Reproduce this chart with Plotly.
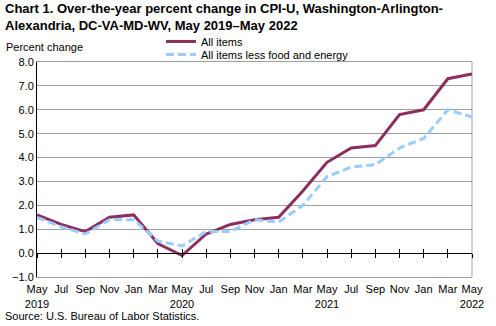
import plotly.graph_objects as go

# Bi-monthly periods, May 2019 through May 2022
months = ["May", "Jul", "Sep", "Nov", "Jan", "Mar",
          "May", "Jul", "Sep", "Nov", "Jan", "Mar",
          "May", "Jul", "Sep", "Nov", "Jan", "Mar", "May"]
year_labels = {0: "2019", 6: "2020", 12: "2021", 18: "2022"}

all_items = [1.6, 1.2, 0.9, 1.5, 1.6, 0.4, -0.1, 0.8, 1.2, 1.4,
             1.5, 2.6, 3.8, 4.4, 4.5, 5.8, 6.0, 7.3, 7.5]
core_items = [1.5, 1.1, 0.8, 1.4, 1.4, 0.5, 0.3, 0.9, 0.9, 1.4,
              1.3, 2.0, 3.2, 3.6, 3.7, 4.4, 4.8, 6.0, 5.7]

y_ticks = [-1, 0, 1, 2, 3, 4, 5, 6, 7, 8]

positions = list(range(len(months)))
tick_text = [m + ("<br>" + year_labels[i] if i in year_labels else "")
             for i, m in enumerate(months)]

FONT = "Liberation Sans, Arial, sans-serif"

fig = go.Figure()
fig.add_trace(go.Scatter(
    x=positions, y=all_items, mode="lines", name="All items",
    line=dict(color="#8B2F5E", width=3), legend="legend"))
fig.add_trace(go.Scatter(
    x=positions, y=core_items, mode="lines", name="All items less food and energy",
    line=dict(color="#99CCFF", width=3, dash="8px,4px"), legend="legend2"))

zero_pos = (0 - y_ticks[0]) / (y_ticks[-1] - y_ticks[0])
axis_common = dict(range=[positions[0], positions[-1]], tickvals=positions,
                   showgrid=False, zeroline=False, fixedrange=True)
legend_common = dict(xanchor="left", yanchor="top", bgcolor="rgba(0,0,0,0)",
                     font=dict(size=11), itemwidth=30)

fig.update_layout(
    width=496, height=326,
    margin=dict(l=30, r=21, t=62, b=49),
    paper_bgcolor="white", plot_bgcolor="white",
    font=dict(family=FONT, size=11, color="black"),
    showlegend=True,
    legend=dict(x=0.285, y=1.163, **legend_common),
    legend2=dict(x=0.285, y=1.102, **legend_common),
    xaxis=dict(**axis_common, ticktext=tick_text, ticks="",
               showline=True, linecolor="#A0A0A0", linewidth=1, mirror=True,
               tickfont=dict(size=11), ticklabelstandoff=2),
    xaxis2=dict(**axis_common, overlaying="x", anchor="free", position=zero_pos,
                showticklabels=False, ticks="outside", ticklen=4,
                tickcolor="black", showline=True, linecolor="black", linewidth=1),
    xaxis3=dict(**axis_common, overlaying="x", anchor="free", position=zero_pos,
                showticklabels=False, ticks="inside", ticklen=4,
                tickcolor="black", showline=False),
    yaxis=dict(range=[y_ticks[0], y_ticks[-1]], tickvals=y_ticks,
               tickformat=".1f", showgrid=True, gridcolor="#A0A0A0", gridwidth=1,
               zeroline=False, showline=True, linecolor="black", linewidth=1,
               ticks="", fixedrange=True, tickfont=dict(size=11)),
)

# dummy traces bind the zero-line axes so they render
for ax in ("x2", "x3"):
    fig.add_trace(go.Scatter(x=[positions[0]], y=[None], xaxis=ax,
                             showlegend=False, hoverinfo="skip"))

# right border of the plot area
fig.add_shape(type="line", xref="x domain", yref="y domain",
              x0=1, x1=1, y0=0, y1=1, line=dict(color="#A0A0A0", width=1),
              layer="below")

fig.add_annotation(
    text="<b>Chart 1. Over-the-year percent change in CPI-U, Washington-Arlington-<br>"
         "Alexandria, DC-VA-MD-WV, May 2019\u2013May 2022</b>",
    xref="paper", yref="paper", x=-35 / 445, y=1 + 63 / 215,
    xanchor="left", yanchor="top", align="left", showarrow=False,
    font=dict(size=13, family=FONT, color="black"))
fig.add_annotation(
    text="Percent change", xref="paper", yref="paper",
    x=-34 / 445, y=1 + 15 / 215, xanchor="left", yanchor="middle",
    showarrow=False, font=dict(size=11))
fig.add_annotation(
    text="Source: U.S. Bureau of Labor Statistics.", xref="paper", yref="paper",
    x=-35 / 445, y=-39 / 215, xanchor="left", yanchor="middle",
    showarrow=False, font=dict(size=11))

fig.write_html("out.html")
